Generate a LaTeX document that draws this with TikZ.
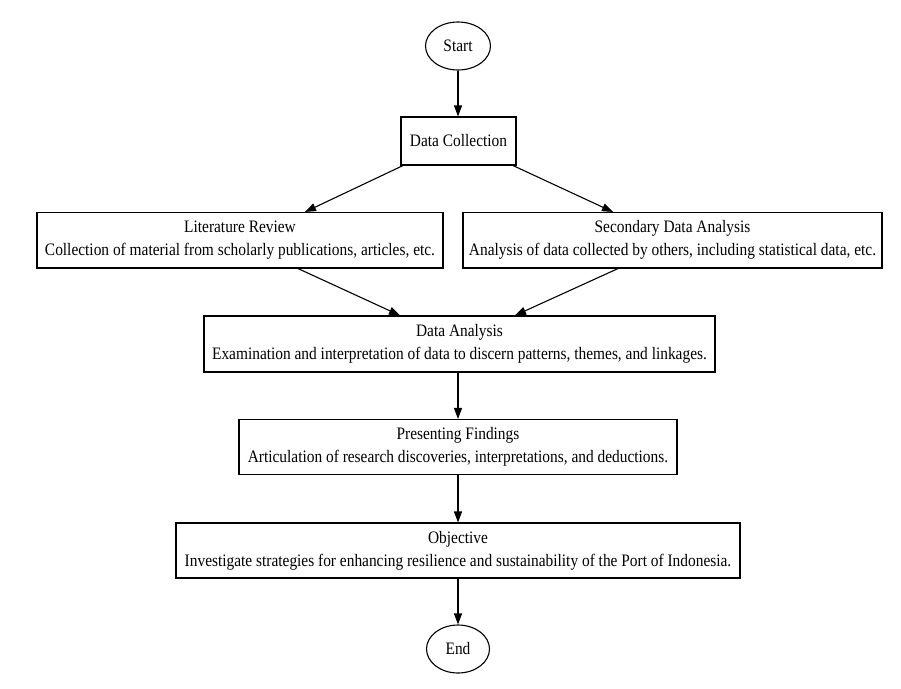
\documentclass[tikz,border=0pt]{standalone}
\usepackage{fontspec}
\setmainfont{Liberation Serif}[FakeStretch=0.88]
\usetikzlibrary{arrows.meta,calc,shapes.geometric}
\begin{document}
\begin{tikzpicture}[x=1pt,y=-1pt,
  every node/.style={font=\fontsize{17.5}{23}\selectfont, inner sep=0pt, align=center},
  procbox/.style={draw, line width=1.1pt, rectangle},
  term/.style={draw, line width=1.1pt, ellipse},
  conn/.style={line width=1.1pt, -{Triangle[length=11pt,width=8pt]}}]
\useasboundingbox (0,0) rectangle (901,688);
\fill[white] (0,0) rectangle (901,688);
\node[term, minimum width=65pt, minimum height=48pt] (start) at (458,46) {Start};
\node[procbox, minimum width=115pt, minimum height=48pt] (dc) at (458.5,141) {Data Collection};
\node[procbox, minimum width=406pt, minimum height=55.5pt] (lit) at (240,240.25) {Literature Review\\Collection of material from scholarly publications, articles, etc.};
\node[procbox, minimum width=419pt, minimum height=55.5pt] (sec) at (672.5,240.25) {Secondary Data Analysis\\Analysis of data collected by others, including statistical data, etc.};
\node[procbox, minimum width=511pt, minimum height=56pt] (da) at (459.5,344) {Data Analysis\\Examination and interpretation of data to discern patterns, themes, and linkages.};
\node[procbox, minimum width=438pt, minimum height=55pt] (pf) at (458,447) {Presenting Findings\\Articulation of research discoveries, interpretations, and deductions.};
\node[procbox, minimum width=564pt, minimum height=55pt] (obj) at (458,550.5) {Objective\\Investigate strategies for enhancing resilience and sustainability of the Port of Indonesia.};
\node[term, minimum width=63pt, minimum height=48pt] (end) at (458,649) {End};
\draw[conn] (start.south) -- (start.south |- dc.north);
\draw[conn] (dc.south -| 403,0) -- (lit.north -| 305,0);
\draw[conn] (dc.south -| 513,0) -- (sec.north -| 613,0);
\draw[conn] (lit.south -| 298,0) -- (da.north -| 400,0);
\draw[conn] (sec.south -| 618,0) -- (da.north -| 515,0);
\draw[conn] (da.south -| 458,0) -- (pf.north -| 458,0);
\draw[conn] (pf.south -| 458,0) -- (obj.north -| 458,0);
\draw[conn] (obj.south -| 458,0) -- (end.north);
\end{tikzpicture}
\end{document}
